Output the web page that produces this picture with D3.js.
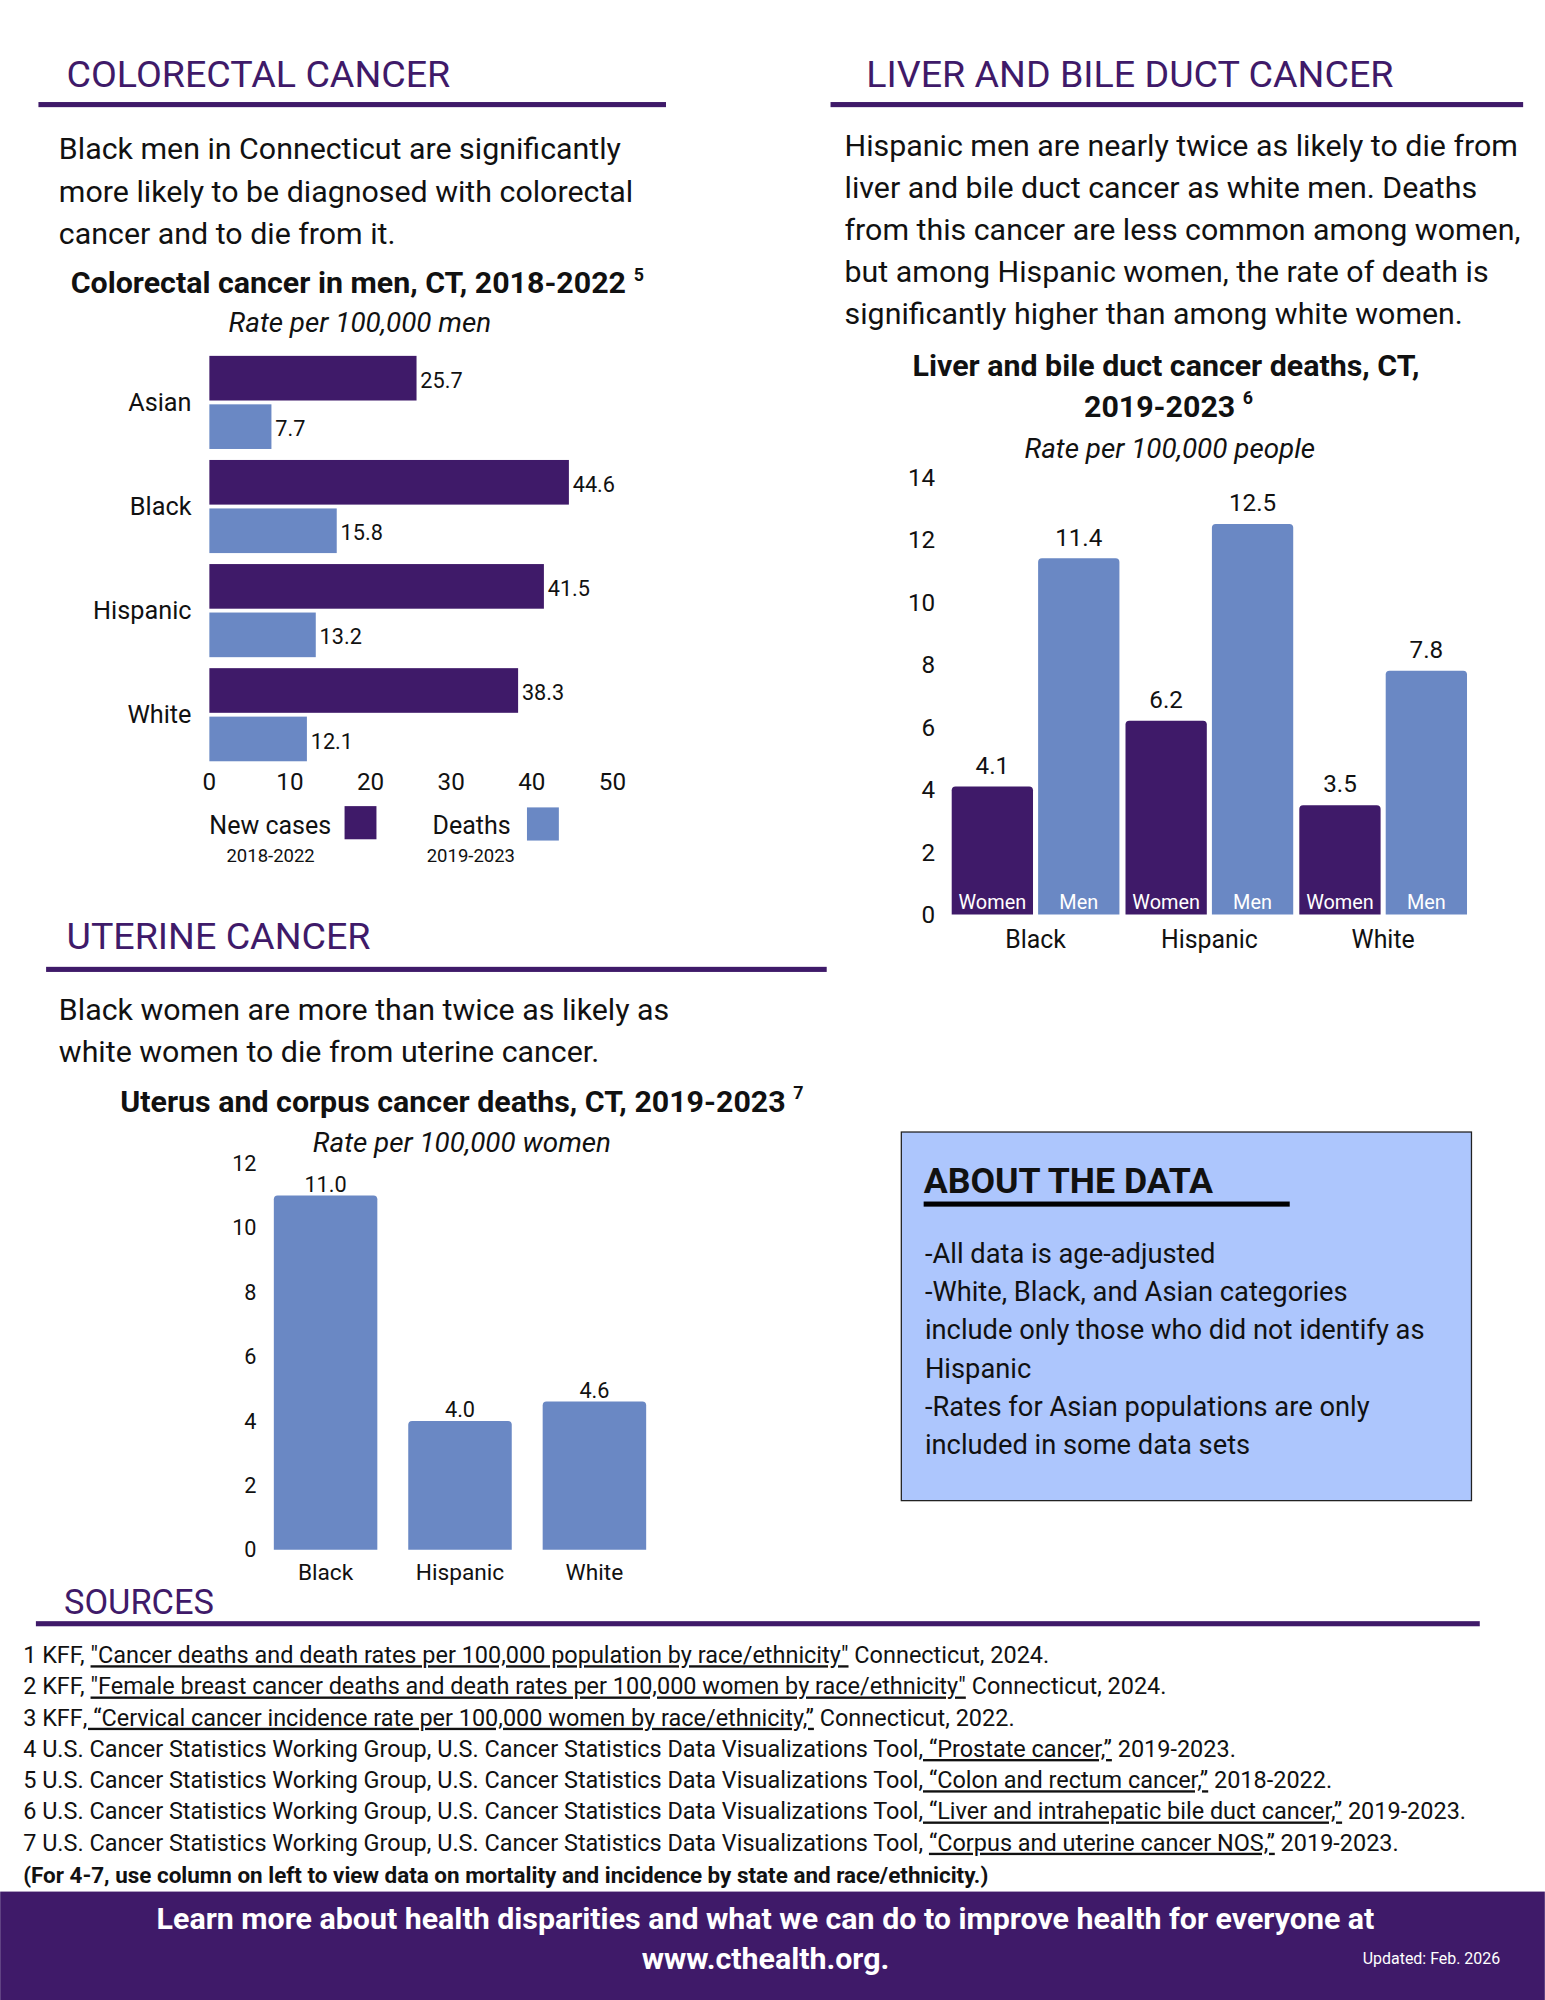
<!DOCTYPE html>
<html><head><meta charset="utf-8">
<script src="https://cdn.jsdelivr.net/npm/d3@7"></script>
<style>
body{margin:0;background:#fff}
text{font-family:Roboto,"Noto Sans",sans-serif;fill:#111}
</style></head>
<body><svg id="c" width="1545" height="2000" viewBox="0 0 1211 1568"></svg>
<script>
// ---- data ----
const crcGroups = ['Asian', 'Black', 'Hispanic', 'White'];
const crcNewCases = [25.7, 44.6, 41.5, 38.3];
const crcDeaths = [7.7, 15.8, 13.2, 12.1];
const crcTicks = [0, 10, 20, 30, 40, 50];

const liverGroups = ['Black', 'Hispanic', 'White'];
const liverWomen = [4.1, 6.2, 3.5];
const liverMen = [11.4, 12.5, 7.8];
const liverTicks = [0, 2, 4, 6, 8, 10, 12, 14];

const uterGroups = ['Black', 'Hispanic', 'White'];
const uterDeaths = [11.0, 4.0, 4.6];
const uterTicks = [0, 2, 4, 6, 8, 10, 12];

const DARK = '#3f1a69', LIGHT = '#6a88c4';
const svg = d3.select('#c');

function txt(x, y, s, o = {}) {
  const t = svg.append('text').attr('x', x).attr('y', y).text(s)
    .attr('font-size', o.size || 23.8).attr('text-anchor', o.anchor || 'start');
  if (o.bold) t.attr('font-weight', 700);
  if (o.italic) t.attr('font-style', 'italic');
  if (o.fill) t.style('fill', o.fill);
  return t;
}
function heading(s, x, y, x1, x2, ry, size) {
  txt(x, y, s, {size: size || 29.5, fill: DARK});
  svg.append('rect').attr('x', x1).attr('y', ry).attr('width', x2 - x1).attr('height', 4).attr('fill', DARK);
}
function titleSup(cx, y, s, sup) {
  const t = txt(cx, y, s, {size: 23.8, bold: true, anchor: 'middle'});
  t.append('tspan').attr('dx', 6).attr('dy', -10).attr('font-size', 14).text(sup);
}

/* ═════ COLORECTAL ═════ */
heading('COLORECTAL CANCER', 52, 68, 30, 522, 80);
['Black men in Connecticut are significantly', 'more likely to be diagnosed with colorectal', 'cancer and to die from it.']
  .forEach((s, i) => txt(46, 125 + i * 33, s));
titleSup(280, 230, 'Colorectal cancer in men, CT, 2018-2022', '5');
txt(282, 260, 'Rate per 100,000 men', {size: 21.8, italic: true, anchor: 'middle'});

const hx = d3.scaleLinear().domain([0, 50]).range([164, 480]);
const hy = d3.scaleBand().domain(crcGroups).range([279, 603]).paddingInner(0.03);
crcGroups.forEach((g, i) => {
  const y0 = hy(g), bh = 35;
  [[crcNewCases[i], DARK, 0], [crcDeaths[i], LIGHT, 38]].forEach(([v, c, off]) => {
    svg.append('rect').attr('x', hx(0)).attr('y', y0 + off).attr('width', hx(v) - hx(0)).attr('height', bh).attr('fill', c);
    txt(hx(v) + 3, y0 + off + 25, v.toFixed(1), {size: 17});
  });
  txt(150, y0 + 43, g, {size: 19.8, anchor: 'end'});
});
crcTicks.forEach(t => txt(hx(t), 619, t, {size: 19, anchor: 'middle'}));
txt(164, 654, 'New cases', {size: 19.6});
svg.append('rect').attr('x', 270).attr('y', 632).attr('width', 25).attr('height', 26).attr('fill', DARK);
txt(212, 676, '2018-2022', {size: 14.5, anchor: 'middle'});
txt(339, 654, 'Deaths', {size: 19.6});
svg.append('rect').attr('x', 413).attr('y', 633).attr('width', 25).attr('height', 26).attr('fill', LIGHT);
txt(369, 676, '2019-2023', {size: 14.5, anchor: 'middle'});

/* ═════ LIVER ═════ */
heading('LIVER AND BILE DUCT CANCER', 679, 68, 651, 1194, 80);
['Hispanic men are nearly twice as likely to die from', 'liver and bile duct cancer as white men. Deaths',
 'from this cancer are less common among women,', 'but among Hispanic women, the rate of death is',
 'significantly higher than among white women.'].forEach((s, i) => txt(662, 122 + i * 33, s));
txt(914, 295, 'Liver and bile duct cancer deaths, CT,', {size: 23.8, bold: true, anchor: 'middle'});
titleSup(916, 327, '2019-2023', '6');
txt(917, 359, 'Rate per 100,000 people', {size: 21.8, italic: true, anchor: 'middle'});

const ly = d3.scaleLinear().domain([0, 14]).range([717, 374]);
const lx = d3.scaleBand().domain(liverGroups).range([746, 1150]).paddingInner(0.035).paddingOuter(0.0);
liverTicks.forEach(t => txt(733, ly(t) + 7, t, {size: 19, anchor: 'end'}));
liverGroups.forEach((g, i) => {
  const x0 = lx(g), bw = (lx.bandwidth() - 4) / 2;
  [[liverWomen[i], DARK, 'Women', 0], [liverMen[i], LIGHT, 'Men', bw + 4]].forEach(([v, c, lab, off]) => {
    svg.append('path').attr('fill', c).attr('d', () => {
      const x = x0 + off, y = ly(v), h = ly(0) - y, r = 3;
      return `M${x},${y + h}V${y + r}Q${x},${y} ${x + r},${y}H${x + bw - r}Q${x + bw},${y} ${x + bw},${y + r}V${y + h}Z`;
    });
    txt(x0 + off + bw / 2, ly(v) - 10, v.toFixed(1), {size: 19, anchor: 'middle'});
    txt(x0 + off + bw / 2, 713, lab, {size: 15.6, anchor: 'middle', fill: '#fff'});
  });
  txt(x0 + lx.bandwidth() / 2, 743, g, {size: 19.5, anchor: 'middle'});
});

/* ═════ UTERINE ═════ */
heading('UTERINE CANCER', 52, 744, 36, 648, 758);
['Black women are more than twice as likely as', 'white women to die from uterine cancer.']
  .forEach((s, i) => txt(46, 800 + i * 33, s));
titleSup(362, 872, 'Uterus and corpus cancer deaths, CT, 2019-2023', '7');
txt(362, 903, 'Rate per 100,000 women', {size: 21.8, italic: true, anchor: 'middle'});

const uy = d3.scaleLinear().domain([0, 12]).range([1215, 912]);
const ux = d3.scaleBand().domain(uterGroups).range([204, 517]).paddingInner(0.23).paddingOuter(0.1);
uterTicks.forEach(t => txt(201, uy(t) + 6, t, {size: 17, anchor: 'end'}));
uterGroups.forEach((g, i) => {
  const x = ux(g), bw = ux.bandwidth(), y = uy(uterDeaths[i]), r = 3;
  svg.append('path').attr('fill', LIGHT)
    .attr('d', `M${x},${uy(0)}V${y + r}Q${x},${y} ${x + r},${y}H${x + bw - r}Q${x + bw},${y} ${x + bw},${y + r}V${uy(0)}Z`);
  txt(x + bw / 2, y - 3, uterDeaths[i].toFixed(1), {size: 17, anchor: 'middle'});
  txt(x + bw / 2, 1239, g, {size: 17.8, anchor: 'middle'});
});

/* ═════ ABOUT ═════ */
svg.append('rect').attr('x', 706.5).attr('y', 887.5).attr('width', 447).attr('height', 289)
  .attr('fill', '#adc6fd').attr('stroke', '#222').attr('stroke-width', 1);
txt(724, 935, 'ABOUT THE DATA', {size: 28, bold: true});
svg.append('rect').attr('x', 724).attr('y', 942).attr('width', 287).attr('height', 4).attr('fill', '#000');
['-All data is age-adjusted', '-White, Black, and Asian categories', 'include only those who did not identify as',
 'Hispanic', '-Rates for Asian populations are only', 'included in some data sets']
  .forEach((s, i) => txt(725, 990 + i * 30, s, {size: 21.4}));

/* ═════ SOURCES ═════ */
heading('SOURCES', 50, 1265, 28, 1160, 1271, 27);
const sources = [
  ['1 KFF, ', '"Cancer deaths and death rates per 100,000 population by race/ethnicity"', ' Connecticut, 2024.'],
  ['2 KFF, ', '"Female breast cancer deaths and death rates per 100,000 women by race/ethnicity"', ' Connecticut, 2024.'],
  ['3 KFF', ', “Cervical cancer incidence rate per 100,000 women by race/ethnicity,”', ' Connecticut, 2022.'],
  ['4 U.S. Cancer Statistics Working Group, U.S. Cancer Statistics Data Visualizations Tool', ', “Prostate cancer,”', ' 2019-2023.'],
  ['5 U.S. Cancer Statistics Working Group, U.S. Cancer Statistics Data Visualizations Tool', ', “Colon and rectum cancer,”', ' 2018-2022.'],
  ['6 U.S. Cancer Statistics Working Group, U.S. Cancer Statistics Data Visualizations Tool', ', “Liver and intrahepatic bile duct cancer,”', ' 2019-2023.'],
  ['7 U.S. Cancer Statistics Working Group, U.S. Cancer Statistics Data Visualizations Tool, ', '“Corpus and uterine cancer NOS,”', ' 2019-2023.']
];
sources.forEach((s, i) => {
  const t = txt(18, 1304 + i * 24.5, '', {size: 18.4});
  t.append('tspan').text(s[0]);
  t.append('tspan').text(s[1]).attr('text-decoration', 'underline');
  t.append('tspan').text(s[2]);
});
txt(18, 1476, '(For 4-7, use column on left to view data on mortality and incidence by state and race/ethnicity.)', {size: 17.6, bold: true});

/* ═════ FOOTER ═════ */
svg.append('rect').attr('x', 0).attr('y', 1483).attr('width', 1211).attr('height', 85).attr('fill', DARK);
txt(600, 1512, 'Learn more about health disparities and what we can do to improve health for everyone at', {size: 23.8, bold: true, anchor: 'middle', fill: '#fff'});
txt(600, 1544, 'www.cthealth.org.', {size: 23.8, bold: true, anchor: 'middle', fill: '#fff'});
txt(1176, 1540, 'Updated: Feb. 2026', {size: 12.5, anchor: 'end', fill: '#fff'});
</script></body></html>
